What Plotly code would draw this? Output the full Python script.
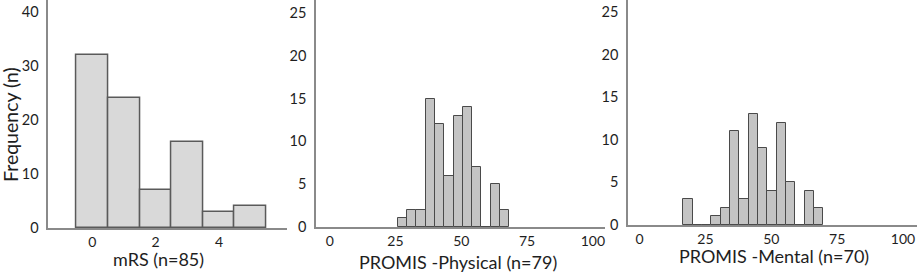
import plotly.graph_objects as go

# ---- data ----
mrs_scores = [0, 1, 2, 3, 4, 5]
mrs_counts = [32, 24, 7, 16, 3, 4]

phys_bin_left = [25.8, 29.34, 32.88, 36.42, 39.96, 43.5, 47.04, 50.58, 54.12, 57.66, 61.2, 64.74]
phys_counts = [1, 2, 2, 15, 12, 6, 13, 14, 7, 0, 5, 2]

ment_bin_left = [16.6, 20.14, 23.68, 27.22, 30.76, 34.3, 37.84, 41.38, 44.92, 48.46, 52.0, 55.54, 59.08, 62.62, 66.16]
ment_counts = [3, 0, 0, 1, 2, 11, 3, 13, 9, 4, 12, 5, 0, 4, 2]
bin_width = 3.54

mrs_ticks = [0, 2, 4]
promis_ticks = [0, 25, 50, 75, 100]
y1_ticks = [0, 10, 20, 30, 40]
y23_ticks = [0, 5, 10, 15, 20, 25]

titles = ["mRS (n=85)", "PROMIS -Physical (n=79)", "PROMIS -Mental (n=70)"]
ytitle = "Frequency (n)"

W, H = 918, 274
FONT = "Lato, 'Open Sans', sans-serif"
TXT = "#1e1e1e"
AX = "#8a8a8a"

fig = go.Figure()
fig.add_trace(go.Bar(x=mrs_scores, y=mrs_counts, width=1.0, xaxis="x", yaxis="y",
                     marker=dict(color="#d9d9d9", line=dict(color="#5a5a5a", width=1.5))))
fig.add_trace(go.Bar(x=phys_bin_left, y=phys_counts, width=bin_width, offset=0, xaxis="x2", yaxis="y2",
                     marker=dict(color="#c4c4c4", line=dict(color="#4a4a4a", width=1))))
fig.add_trace(go.Bar(x=ment_bin_left, y=ment_counts, width=bin_width, offset=0, xaxis="x3", yaxis="y3",
                     marker=dict(color="#c4c4c4", line=dict(color="#4a4a4a", width=1))))

def xa(dom, rng, ticks, anchor):
    return dict(domain=dom, range=rng, tickvals=ticks, anchor=anchor, showgrid=False, zeroline=False,
                showline=True, linecolor=AX, linewidth=1.5, ticks="",
                tickfont=dict(size=14, color=TXT, family=FONT), automargin=False)

def ya(dom, rng, ticks, anchor):
    return dict(domain=dom, range=rng, tickvals=ticks, anchor=anchor, showgrid=False, zeroline=False,
                showline=True, linecolor=AX, linewidth=1.5, ticks="", ticklabelstandoff=5,
                tickfont=dict(size=14.5, color=TXT, family=FONT), automargin=False)

fig.update_layout(
    width=W, height=H, margin=dict(l=0, r=0, t=0, b=0),
    paper_bgcolor="white", plot_bgcolor="white", showlegend=False, bargap=0,
    font=dict(family=FONT, color=TXT),
    xaxis=xa([48.3 / W, 286.7 / W], [-1.39, 6.14], mrs_ticks, "y"),
    yaxis=ya([(H - 228) / H, 1], [0, 42.2], y1_ticks, "x"),
    xaxis2=xa([316 / W, 605 / W], [-5.2, 104.6], promis_ticks, "y2"),
    yaxis2=ya([(H - 227) / H, 1], [0, 26.5], y23_ticks, "x2"),
    xaxis3=xa([628 / W, 917 / W], [-4.4, 105.3], promis_ticks, "y3"),
    yaxis3=ya([(H - 225) / H, 1], [0, 26.4], y23_ticks, "x3"),
)

title_pos = [(158, 259), (458, 262), (774, 256)]
for t, (px, py) in zip(titles, title_pos):
    fig.add_annotation(text=t, x=px / W, y=1 - py / H, xref="paper", yref="paper",
                       showarrow=False, xanchor="center", yanchor="middle",
                       font=dict(size=18, color=TXT, family=FONT))
fig.add_annotation(text=ytitle, x=10 / W, y=1 - 125 / H, xref="paper", yref="paper",
                   showarrow=False, textangle=-90, xanchor="center", yanchor="middle",
                   font=dict(size=19.5, color=TXT, family=FONT))

fig.write_html("out.html", config={"displayModeBar": False},
               post_script="document.body.style.margin='0';")
